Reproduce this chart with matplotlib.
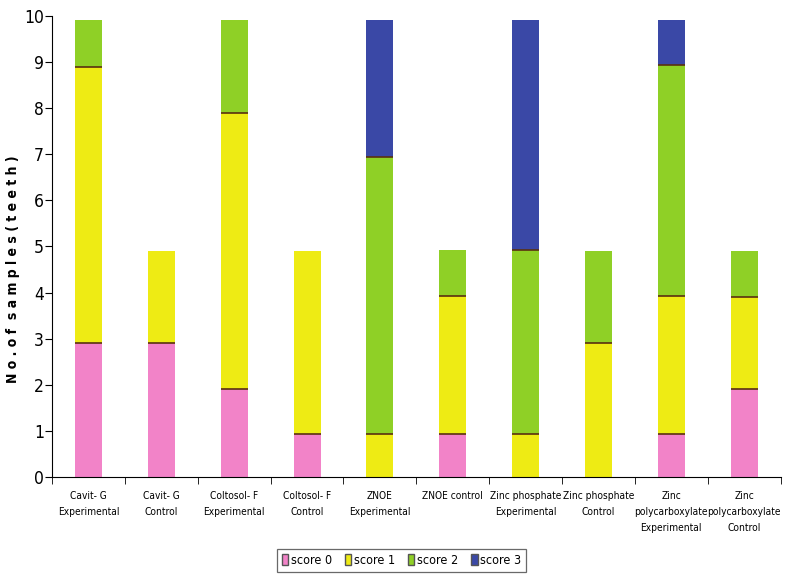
import numpy as np
import matplotlib.pyplot as plt
from matplotlib.patches import Patch
from matplotlib import font_manager

groups = ['Cavit- G\nExperimental', 'Cavit- G\nControl', 'Coltosol- F\nExperimental',
          'Coltosol- F\nControl', 'ZNOE\nExperimental', 'ZNOE control',
          'Zinc phosphate\nExperimental', 'Zinc phosphate\nControl',
          'Zinc\npolycarboxylate\nExperimental', 'Zinc\npolycarboxylate\nControl']
score0 = [2.9, 2.9, 1.9, 0.93, 0, 0.93, 0, 0, 0.93, 1.9]
score1 = [6.0, 2.0, 6.0, 3.97, 0.93, 3.0, 0.93, 2.9, 3.0, 2.0]
score2 = [1.0, 0, 2.0, 0, 6.0, 1.0, 4.0, 2.0, 5.0, 1.0]
score3 = [0, 0, 0, 0, 2.97, 0, 4.97, 0, 0.97, 0]
labels = ['score 0', 'score 1', 'score 2', 'score 3']
colors = ['#f283c8', '#eeeb14', '#8fd026', '#3a48a6']


# the original uses Arial Narrow, take the narrowest face we have
def find_face(bold=False):
    for f in font_manager.fontManager.ttflist:
        name = f.fname.split('/')[-1]
        want = 'DejaVuSansCondensed-Bold.ttf' if bold else 'DejaVuSansCondensed.ttf'
        if name == want:
            return dict(fname=f.fname)
    return dict(family='DejaVu Sans', weight='bold' if bold else 'normal')


reg = find_face()
bld = find_face(bold=True)

fig = plt.figure(figsize=(7.9, 5.86), dpi=100)
ax = fig.add_axes([0.066, 0.186, 0.922, 0.787])

x = np.arange(1, len(groups) + 1)
width = 0.37
bottom = np.zeros(len(groups))
for vals, col in zip([score0, score1, score2, score3], colors):
    vals = np.array(vals)
    ax.bar(x, vals, width, bottom=bottom, color=col, linewidth=0)
    bottom = bottom + vals
# dark line where a segment meets the next one
tops = [np.cumsum(v) for v in zip(score0, score1, score2, score3)]
for xi, t in zip(x, tops):
    for level in t[:-1]:
        if 0 < level < t[-1]:
            ax.hlines(level, xi - width / 2, xi + width / 2, color='#5a3010', lw=1.2)

ax.set_xlim(0.5, 10.5)
ax.set_ylim(0, 10)
ax.set_yticks(range(0, 11))
ax.set_xticks(x)
ax.set_xticklabels(groups, linespacing=1.75)
for t in ax.get_xticklabels():
    t.set_fontproperties(font_manager.FontProperties(size=7.3, **reg))
ax.set_xticks(np.arange(0.5, 11, 1), minor=True)
ax.tick_params(axis='x', which='major', length=0, pad=10)
ax.tick_params(axis='x', which='minor', length=5, direction='out')
ax.tick_params(axis='y', length=5, direction='out', pad=1)
for t in ax.get_yticklabels():
    t.set_fontproperties(font_manager.FontProperties(size=12.5, **reg))
ax.spines['top'].set_visible(False)
ax.spines['right'].set_visible(False)
ax.set_ylabel('N o . o f  s a m p l e s ( t e e t h )',
              fontproperties=font_manager.FontProperties(size=10, **bld))
ax.yaxis.set_label_coords(-0.044, 0.45)

handles = [Patch(facecolor=c, edgecolor='#555555', label=l) for c, l in zip(colors, labels)]
leg = fig.legend(handles=handles, loc='center', bbox_to_anchor=(0.508, 0.044), ncol=4,
                 frameon=True, fancybox=False, edgecolor='#444444', handlelength=0.55,
                 handleheight=0.9, handletextpad=0.2, columnspacing=1.0,
                 prop=font_manager.FontProperties(size=9, **reg),
                 borderpad=0.4)
leg.get_frame().set_linewidth(0.9)

fig.savefig('out.png', dpi=100)
